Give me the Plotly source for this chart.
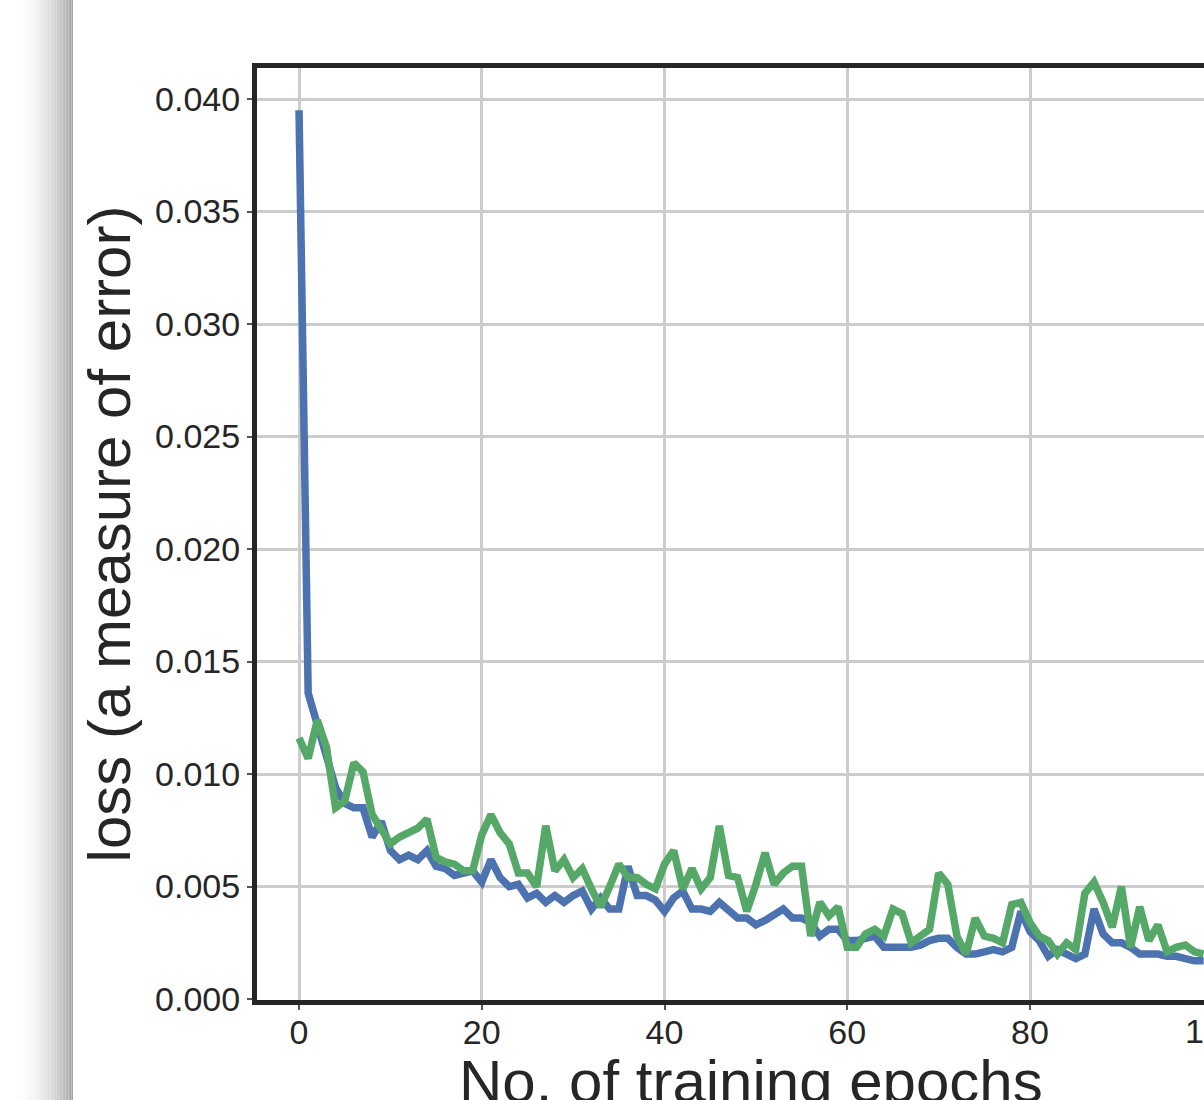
import plotly.graph_objects as go

epochs = list(range(100))

train_loss = [
    0.0395, 0.0136, 0.0122, 0.0107, 0.0094, 0.0087, 0.0085, 0.0085, 0.0072, 0.0079,
    0.0066, 0.0062, 0.0064, 0.0062, 0.0066, 0.0059, 0.0058, 0.0055, 0.0056, 0.0057,
    0.0052, 0.0062, 0.0054, 0.0050, 0.0051, 0.0045, 0.0047, 0.0043, 0.0046, 0.0043,
    0.0046, 0.0048, 0.0040, 0.0045, 0.0040, 0.0040, 0.0059, 0.0046, 0.0046, 0.0044,
    0.0039, 0.0045, 0.0048, 0.0040, 0.0040, 0.0039, 0.0043, 0.0040, 0.0036, 0.0036,
    0.0033, 0.0035, 0.0038, 0.0040, 0.0036, 0.0036, 0.0034, 0.0028, 0.0031, 0.0031,
    0.0026, 0.0026, 0.0027, 0.0028, 0.0023, 0.0023, 0.0023, 0.0023, 0.0024, 0.0026,
    0.0027, 0.0027, 0.0023, 0.0020, 0.0020, 0.0021, 0.0022, 0.0021, 0.0023, 0.0039,
    0.0030, 0.0026, 0.0019, 0.0022, 0.0020, 0.0018, 0.0020, 0.0040, 0.0029, 0.0025,
    0.0025, 0.0023, 0.0020, 0.0020, 0.0020, 0.0019, 0.0019, 0.0018, 0.0017, 0.0017,
]

val_loss = [
    0.0116, 0.0107, 0.0124, 0.0112, 0.0085, 0.0088, 0.0105, 0.0101, 0.0082, 0.0075,
    0.0069, 0.0072, 0.0074, 0.0076, 0.0080, 0.0063, 0.0061, 0.0060, 0.0057, 0.0057,
    0.0073, 0.0082, 0.0074, 0.0069, 0.0056, 0.0056, 0.0050, 0.0077, 0.0057, 0.0062,
    0.0054, 0.0058, 0.0049, 0.0041, 0.0050, 0.0060, 0.0054, 0.0054, 0.0051, 0.0049,
    0.0060, 0.0066, 0.0049, 0.0058, 0.0049, 0.0054, 0.0077, 0.0055, 0.0054, 0.0039,
    0.0051, 0.0065, 0.0051, 0.0056, 0.0059, 0.0059, 0.0028, 0.0043, 0.0037, 0.0041,
    0.0023, 0.0023, 0.0029, 0.0031, 0.0028, 0.0040, 0.0038, 0.0025, 0.0028, 0.0031,
    0.0056, 0.0051, 0.0028, 0.0020, 0.0036, 0.0028, 0.0027, 0.0025, 0.0042, 0.0043,
    0.0034, 0.0028, 0.0026, 0.0020, 0.0025, 0.0022, 0.0047, 0.0052, 0.0043, 0.0032,
    0.0050, 0.0023, 0.0041, 0.0026, 0.0033, 0.0021, 0.0023, 0.0024, 0.0021, 0.0020,
]

x_ticks = [0, 20, 40, 60, 80]
y_ticks = [0.000, 0.005, 0.010, 0.015, 0.020, 0.025, 0.030, 0.035, 0.040]
y_tick_text = ["%.3f" % v for v in y_ticks]
x_title = "No. of training epochs"
y_title = "loss (a measure of error)"
cut_tick_label = "100"

W, H = 1204, 1100
ML, MT, MB = 257, 68, 100
PW = W - ML
PH = H - MT - MB

BLUE = "#4C72B0"
GREEN = "#55A868"
TXT = "#262626"
FONT = "Liberation Sans, Arial, sans-serif"

fig = go.Figure()
fig.add_trace(go.Scatter(x=epochs, y=train_loss, mode="lines",
                         line=dict(color=BLUE, width=7.5), name="train"))
fig.add_trace(go.Scatter(x=epochs, y=val_loss, mode="lines",
                         line=dict(color=GREEN, width=7.5), name="val"))

# page shadow on the left edge
shapes = []
x0, x1 = 10, 73
n = 42
for i in range(n):
    a = x0 + (x1 - x0) * i / n
    b = x0 + (x1 - x0) * (i + 1) / n
    t = (i + 0.5) / n
    g = int(round(255 - 92 * t ** 2.2))
    shapes.append(dict(type="rect", xref="paper", yref="paper",
                       x0=(a - ML) / PW, x1=(b - ML) / PW,
                       y0=-1, y1=2, line=dict(width=0),
                       fillcolor="rgb(%d,%d,%d)" % (g, g, g), layer="below"))

fig.update_layout(
    width=W, height=H,
    margin=dict(l=ML, r=0, t=MT, b=MB, pad=0),
    paper_bgcolor="white", plot_bgcolor="white",
    showlegend=False,
    font=dict(family=FONT, color=TXT, size=34),
    shapes=shapes,
    annotations=[
        dict(text=x_title, xref="paper", yref="paper",
             x=(751 - ML) / PW, y=-(1081 - (MT + PH)) / PH,
             xanchor="center", yanchor="middle",
             showarrow=False, font=dict(size=60, color=TXT, family=FONT)),
        dict(text=cut_tick_label, xref="paper", yref="paper",
             x=(1213 - ML) / PW, y=-(1031 - (MT + PH)) / PH,
             xanchor="center", yanchor="middle",
             showarrow=False, font=dict(size=34, color=TXT, family=FONT)),
    ],
)

fig.update_xaxes(
    range=[-4.6, 99.04], tickvals=x_ticks,
    showgrid=True, gridcolor="#cccccc", gridwidth=2.5,
    zeroline=False,
    showline=True, linecolor=TXT, linewidth=5, mirror=True,
    ticks="outside", ticklen=5, tickwidth=1.5, tickcolor="#555555",
    ticklabelstandoff=-7,
    tickfont=dict(size=34, color=TXT, family=FONT),
)
fig.update_yaxes(
    range=[-0.00004, 0.04138], tickvals=y_ticks, ticktext=y_tick_text,
    showgrid=True, gridcolor="#cccccc", gridwidth=2.5,
    zeroline=False,
    showline=True, linecolor=TXT, linewidth=5, mirror=False,
    ticks="outside", ticklen=5, tickwidth=1.5, tickcolor="#555555",
    tickfont=dict(size=34, color=TXT, family=FONT),
    title=dict(text=y_title, font=dict(size=60, color=TXT, family=FONT), standoff=7),
)

fig.write_html("out.html",
               config={"displayModeBar": False},
               post_script="document.body.style.margin='0';document.body.style.overflow='hidden';")
